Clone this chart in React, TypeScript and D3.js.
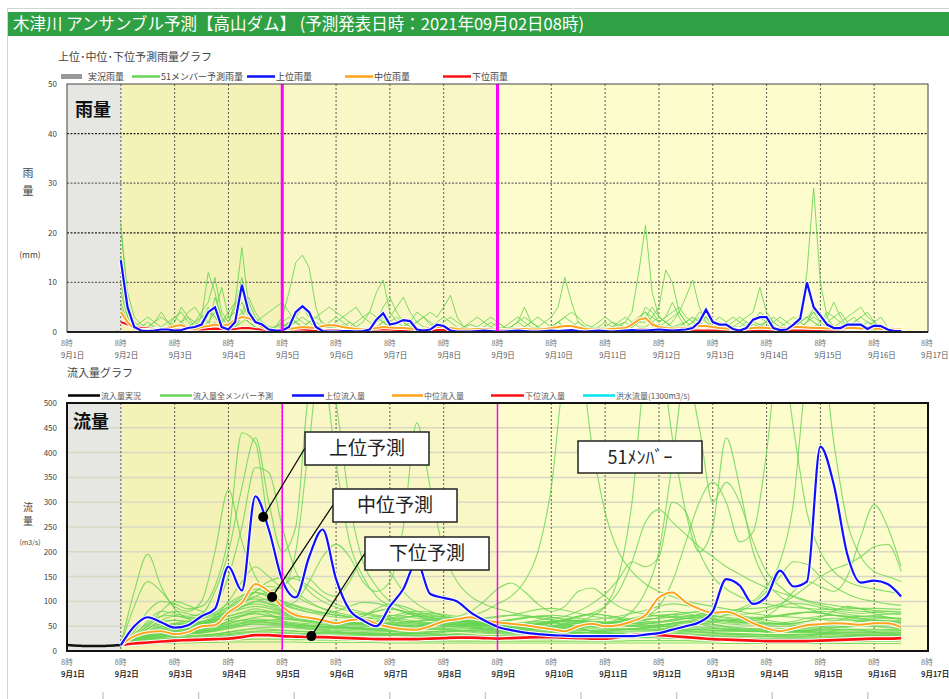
import React from "react";
import * as d3 from "d3";

const JP = "'Noto Sans CJK JP', 'Noto Sans', sans-serif";

const TITLE = "木津川 アンサンブル予測【高山ダム】 (予測発表日時：2021年09月02日08時)";
const RAIN_TITLE = "上位･中位･下位予測雨量グラフ";
const FLOW_TITLE = "流入量グラフ";
const dayLabels = ["9月1日", "9月2日", "9月3日", "9月4日", "9月5日", "9月6日", "9月7日", "9月8日", "9月9日",
  "9月10日", "9月11日", "9月12日", "9月13日", "9月14日", "9月15日", "9月16日", "9月17日"];
const hourLabel = "8時";
const rainTicks = [0, 10, 20, 30, 40, 50];
const flowTicks = [0, 50, 100, 150, 200, 250, 300, 350, 400, 450, 500];
const rainLegend = ["実況雨量", "51メンバー予測雨量", "上位雨量", "中位雨量", "下位雨量"];
const flowLegend = ["流入量実況", "流入量全メンバー予測", "上位流入量", "中位流入量", "下位流入量", "洪水流量(1300m3/s)"];

// hours counted from 9/1 8時
const forecastStart = 24;
const cutLines = [96, 192];

// rain, every 3 hours from 9/2 8時
const rainStep = 3;
const rainObserved = [0, 0, 0, 0, 0, 0, 0, 0, 0, 0, 0, 0, 0, 0, 0, 0, 0, 0, 0, 0, 0, 0.2, 0.3, 0.2];
const rainUpper = [
  14.5, 5, 1, 0.3, 0.2, 0.3, 0.5, 0.5, 0.3, 0.4,
  0.8, 1, 1.5, 4, 5, 1, 0.5, 2, 9.5, 4,
  2, 1.5, 0.5, 0.3, 0.3, 1, 4, 5.2, 4, 1,
  0.2, 0.1, 0.1, 0.2, 0.2, 0.1, 0.2, 0.5, 2.5, 3.8,
  1.5, 1.8, 2.4, 2.2, 0.5, 0.3, 0.5, 1.5, 1.2, 0.3,
  0.1, 0.1, 0.1, 0.2, 0.3, 0.2, 0.1, 0.1, 0.2, 0.3,
  0.2, 0.1, 0.1, 0.2, 0.3, 0.2, 0.3, 0.4, 0.2, 0.1,
  0.2, 0.3, 0.2, 0.1, 0.2, 0.3, 0.4, 0.3, 0.3, 0.4,
  0.5, 0.4, 0.3, 0.4, 0.5, 0.8, 2, 4.5, 2, 1.5,
  1.5, 0.6, 0.3, 0.8, 2.5, 3, 3, 0.8, 0.4, 0.5,
  1.5, 2.7, 10, 5, 3.3, 1.5, 0.8, 0.8, 1.5, 1.5,
  1.5, 0.6, 1.3, 1.2, 0.5, 0.2, 0.2];
const rainMiddle = [
  4, 2, 0.6, 0.4, 0.4, 0.5, 0.6, 0.8, 1.2, 1.4,
  0.8, 0.5, 1, 1.2, 1.5, 1.2, 1.5, 2.5, 3, 2.8,
  2, 1, 0.5, 0.4, 0.5, 0.6, 0.8, 1, 0.9, 0.8,
  1.2, 1.4, 1.3, 1, 0.8, 0.6, 0.5, 0.6, 0.8, 1,
  0.9, 0.8, 0.8, 0.7, 0.6, 0.6, 0.8, 1, 1, 0.8,
  0.6, 0.5, 0.5, 0.6, 0.6, 0.5, 0.4, 0.4, 0.5, 0.6,
  0.6, 0.5, 0.5, 0.6, 0.8, 1, 1.2, 1.2, 0.9, 0.6,
  0.5, 0.5, 0.5, 0.6, 0.7, 0.8, 1.5, 2.5, 2.8, 1.5,
  1, 0.8, 0.7, 0.7, 0.8, 1, 1.2, 1.2, 1, 0.8,
  0.7, 0.6, 0.6, 0.7, 0.8, 0.9, 0.8, 0.7, 0.7, 0.8,
  1, 1, 0.9, 0.8, 0.8, 0.7, 0.7, 0.7, 0.8, 0.8,
  0.7, 0.7, 0.7, 0.6, 0.6, 0.5, 0.5];
const rainLower = [
  2, 1.5, 1, 0.8, 0.7, 0.6, 0.5, 0.5, 0.5, 0.6,
  0.6, 0.5, 0.5, 0.6, 0.7, 0.6, 0.5, 0.6, 0.8, 0.8,
  0.6, 0.5, 0.4, 0.4, 0.4, 0.5, 0.5, 0.5, 0.4, 0.4,
  0.4, 0.4, 0.4, 0.4, 0.4, 0.4, 0.4, 0.4, 0.5, 0.5,
  0.5, 0.4, 0.4, 0.4, 0.4, 0.3, 0.3, 0.4, 0.4, 0.4,
  0.3, 0.3, 0.3, 0.3, 0.3, 0.3, 0.3, 0.3, 0.3, 0.3,
  0.3, 0.3, 0.3, 0.3, 0.3, 0.3, 0.4, 0.4, 0.4, 0.3,
  0.3, 0.3, 0.3, 0.3, 0.3, 0.3, 0.4, 0.5, 0.5, 0.4,
  0.4, 0.4, 0.3, 0.3, 0.3, 0.3, 0.3, 0.3, 0.3, 0.3,
  0.3, 0.3, 0.3, 0.3, 0.3, 0.3, 0.3, 0.3, 0.3, 0.3,
  0.3, 0.3, 0.3, 0.3, 0.3, 0.3, 0.4, 0.5, 0.6, 0.7,
  0.8, 1, 1, 0.9, 0.8, 0.6, 0.4];
const rainMembers = [
  [22, 6, 2, 1, 0.5, 0.5, 1, 2, 3, 2,
    1, 0.5, 2, 5, 3, 1, 2, 6, 17, 5,
    2, 1, 0.5, 1, 3, 8, 14, 15.5, 13, 5,
    1, 0.5, 0.5, 1, 2, 1, 0.5, 1, 3, 2,
    1, 0.5, 0.5, 1, 0.5, 0.3, 0.3, 0.5, 1, 0.5,
    0.3, 0.2, 0.3, 0.5, 1, 0.5, 0.3, 0.3, 0.5, 1,
    0.5, 0.3, 0.3, 0.5, 1, 2, 1, 0.5, 0.3, 0.3,
    0.5, 1, 0.5, 0.5, 1, 2, 4, 12, 21.5, 8,
    3, 2, 1, 1, 2, 3, 2, 1, 1, 2,
    1, 0.5, 0.5, 1, 2, 1.5, 1, 0.5, 0.5, 1,
    1.5, 2, 3, 2, 1, 0.5, 0.5, 1, 1.5, 1,
    0.5, 0.5, 1, 0.5, 0.3, 0.2, 0.2],
  [21, 8, 3, 1.5, 1, 0.5, 0.5, 1, 1.5, 1,
    0.5, 1, 3, 12, 8, 2, 1, 1.5, 3, 2,
    1, 0.5, 0.5, 0.5, 1, 1.5, 2, 1, 0.5, 0.5,
    0.5, 1, 0.5, 0.3, 0.5, 1, 2, 4, 8, 10.5,
    4, 2, 1, 0.5, 0.5, 1, 1, 0.5, 0.3, 0.3,
    0.3, 0.5, 0.5, 0.3, 0.2, 0.2, 0.3, 0.5, 1, 2,
    1, 0.5, 0.3, 0.3, 0.5, 0.5, 0.3, 0.2, 0.2, 0.3,
    0.5, 0.5, 0.3, 0.3, 0.5, 1, 1.5, 2, 2, 3,
    5, 12.5, 10, 4, 2, 1, 0.5, 0.5, 1, 0.5,
    0.3, 0.3, 0.5, 1, 1.5, 1, 0.5, 0.3, 0.3, 0.5,
    1, 3, 12, 29, 10, 3, 1, 0.5, 0.5, 1,
    1, 0.5, 0.3, 0.3, 0.3, 0.2, 0.2],
  [15, 4, 1, 0.5, 1, 2, 3, 2, 1, 0.5,
    1, 2, 4, 6, 11, 4, 2, 5, 11, 4,
    2, 1, 0.5, 0.5, 1, 2, 3, 2, 1, 0.5,
    0.5, 1, 2, 3, 2, 1, 0.5, 0.5, 1, 2,
    3, 5, 7, 4, 2, 1, 0.5, 0.5, 1, 0.5,
    0.3, 0.3, 0.5, 1, 0.5, 0.3, 0.3, 0.5, 1, 0.5,
    0.3, 0.5, 1, 2, 3, 5, 11, 6, 2, 1,
    0.5, 0.3, 0.3, 0.5, 0.5, 1, 1.5, 3, 4, 2,
    1, 1, 2, 4, 7, 10.5, 5, 2, 1, 0.5,
    0.5, 1, 1, 0.5, 0.5, 1, 2, 1, 0.5, 0.3,
    0.5, 1, 2, 4, 2, 1, 0.5, 1, 2, 3,
    1.5, 1, 0.5, 0.5, 0.3, 0.2, 0.2],
  [10, 3, 1, 2, 3, 2, 1, 0.5, 1, 2,
    3, 2, 1, 2, 4, 9, 3, 1, 2, 3,
    2, 1, 0.5, 0.5, 0.5, 1, 2, 3, 2, 1,
    0.5, 0.5, 1, 1.5, 1, 0.5, 0.5, 1, 2, 3,
    2, 1, 0.5, 1, 2, 3, 4, 3, 5, 7.4,
    3, 1, 0.5, 0.5, 1, 2, 1, 0.5, 1, 2,
    5, 2, 1, 0.5, 0.5, 1, 1, 0.5, 0.5, 1,
    0.5, 0.3, 0.5, 1, 2, 3, 2, 1, 1, 2,
    3, 2, 1, 0.5, 1, 2, 3, 2, 1, 0.5,
    0.5, 1, 2, 3, 4, 9, 4, 2, 1, 0.5,
    0.5, 1, 2, 3, 2, 3, 6, 3, 1, 0.5,
    1, 2, 1.5, 1, 0.5, 0.3, 0.2],
  [6, 2, 1, 0.5, 1, 2, 4, 2, 1, 2,
    4, 5, 3, 2, 1, 2, 3, 4, 6, 3,
    2, 3, 4, 5, 6, 4, 2, 1, 2, 3,
    4, 5, 4, 3, 4, 5, 3, 2, 1, 1,
    2, 3, 2, 1, 0.5, 0.5, 1, 2, 3, 2,
    1, 0.5, 0.5, 1, 2, 3, 2, 1, 0.5, 0.5,
    1, 2, 3, 2, 1, 0.5, 0.5, 1, 2, 1,
    0.5, 0.5, 1, 2, 1.5, 1, 2, 3, 4, 3,
    2, 3, 4, 5, 3, 2, 1.5, 1, 2, 3,
    2, 1, 0.5, 1, 2, 3, 2, 1, 0.5, 0.5,
    1, 2, 3, 4, 3, 2, 1, 0.5, 1, 2,
    3, 2, 1, 0.5, 0.5, 0.3, 0.2],
  [5, 1.5, 0.5, 0.5, 1, 1, 0.5, 1, 2, 5,
    3, 1, 0.5, 1, 7, 3, 1, 2, 4, 7,
    4, 2, 1, 0.5, 1, 2, 3, 5, 3, 2,
    1, 0.5, 0.5, 1, 0.5, 0.3, 0.5, 1, 2, 5,
    7, 4, 2, 1, 2, 3, 2, 1, 0.5, 0.5,
    0.5, 1, 1.5, 1, 0.5, 0.3, 0.5, 1, 2, 3,
    2, 1, 0.5, 0.5, 1, 2, 1, 0.5, 0.3, 0.5,
    1, 2, 3, 2, 1, 0.5, 1, 2, 5, 4,
    2, 3, 6, 3, 1, 2, 4, 3, 1, 0.5,
    1, 2, 3, 2, 1, 1.5, 2, 3, 2, 1,
    0.5, 1, 2, 5, 3, 2, 3, 4, 2, 1,
    0.5, 1, 2, 3, 1, 0.5, 0.2],
  [8, 3, 1, 0.5, 0.5, 0.3, 0.5, 1, 3, 4,
    2, 1, 0.5, 1, 2, 1, 0.5, 1, 3, 6,
    3, 1.5, 1, 1, 2, 3, 2, 1, 0.5, 0.5,
    1, 2, 3, 2, 1, 0.5, 0.5, 0.5, 1, 2,
    1, 0.5, 1, 2, 4, 3, 1.5, 1, 0.5, 0.5,
    0.5, 1, 2, 3, 2, 1, 0.5, 0.5, 1, 2,
    3, 2, 1, 0.5, 1, 2, 3, 2, 1, 0.5,
    0.5, 1, 2, 1, 0.5, 0.5, 1, 2, 3, 5,
    3, 2, 1, 1.5, 2, 3, 2, 1, 0.5, 1,
    2, 3, 2, 1, 2, 4, 3, 2, 1, 2,
    3, 2, 1, 1, 2, 4, 3, 2, 1, 2,
    3, 4, 2, 1, 0.5, 0.3, 0.2],
  [4, 2, 1, 1, 2, 1, 0.5, 0.5, 1, 1.5,
    1, 2, 3, 4, 3, 2, 4, 6, 4, 2,
    1, 0.5, 0.5, 1, 1.5, 1, 0.5, 1, 2, 3,
    2, 1, 0.5, 0.5, 1, 2, 3, 4, 3, 2,
    1, 0.5, 1, 2, 1, 0.5, 0.5, 1, 2, 3,
    2, 1, 0.5, 0.3, 0.5, 1, 2, 1, 0.5, 0.5,
    1, 2, 1, 0.5, 1, 2, 3, 4, 3, 1.5,
    1, 0.5, 0.5, 1, 1.5, 2, 1, 2, 3, 2,
    1, 2, 3, 4, 2, 1, 2, 3, 2, 1,
    0.5, 0.5, 1, 2, 1, 0.5, 1, 2, 3, 2,
    1, 2, 3, 2, 1, 0.5, 1, 2, 3, 4,
    5, 3, 2, 1, 0.5, 0.3, 0.2],
];

// inflow, every 6 hours from 9/2 8時 (observed every 3 hours from 9/1 8時)
const flowStep = 6;
const flowObserved = [12, 11, 10.5, 10, 10, 10, 10.5, 11, 12];
const flowUpper = [
  12, 50, 68, 58, 47, 52, 70, 85, 170, 122,
  312, 245, 143, 108, 190, 245, 145, 83, 62, 50,
  90, 125, 180, 115, 107, 100, 78, 62, 49, 42,
  37, 34, 32, 31, 30, 30, 30, 30, 30, 33,
  36, 43, 50, 58, 80, 145, 132, 95, 110, 162,
  130, 140, 412, 335, 195, 138, 142, 135, 110];
const flowMiddle = [
  12, 30, 38, 40, 34, 38, 50, 52, 78, 97,
  135, 120, 89, 72, 67, 62, 56, 62, 64, 55,
  48, 44, 43, 50, 60, 64, 68, 62, 58, 55,
  52, 48, 44, 40, 50, 55, 50, 52, 60, 72,
  108, 118, 98, 85, 77, 79, 70, 56, 46, 40,
  46, 52, 54, 56, 55, 53, 56, 56, 48];
const flowLower = [
  12, 15, 17, 19, 21, 22, 23, 24, 25, 28,
  32, 32, 30, 29, 28, 28, 27, 26, 25, 24,
  24, 24, 24, 25, 26, 27, 27, 26, 25, 26,
  27, 28, 28, 27, 26, 25, 25, 28, 32, 33,
  32, 30, 28, 26, 24, 23, 22, 21, 20, 20,
  20, 20, 21, 22, 23, 24, 25, 25, 26];
const flowMembers = [
  [12, 120, 195, 130, 85, 65, 55, 50, 60, 70,
    80, 75, 60, 50, 45, 40, 38, 36, 34, 33,
    32, 31, 30, 30, 32, 35, 33, 30, 28, 27,
    26, 26, 25, 25, 26, 28, 30, 32, 30, 28,
    27, 26, 25, 25, 24, 24, 23, 23, 22, 22,
    22, 23, 24, 25, 26, 27, 26, 25, 25],
  [12, 90, 140, 120, 90, 80, 100, 200, 325, 220,
    150, 110, 90, 75, 65, 58, 52, 48, 45, 42,
    40, 38, 36, 35, 34, 33, 32, 31, 30, 30,
    30, 35, 45, 55, 48, 40, 36, 33, 31, 30,
    29, 28, 28, 27, 27, 26, 26, 25, 25, 25,
    25, 25, 26, 28, 30, 32, 30, 28, 27],
  [12, 40, 80, 100, 95, 85, 90, 130, 230, 440,
    420, 250, 160, 120, 100, 85, 75, 68, 62, 58,
    54, 50, 48, 46, 44, 42, 40, 38, 37, 36,
    40, 55, 60, 50, 45, 40, 38, 36, 35, 34,
    34, 33, 32, 32, 31, 30, 30, 29, 29, 28,
    28, 30, 34, 40, 44, 42, 38, 35, 33],
  [12, 30, 60, 80, 75, 70, 75, 120, 200, 330,
    430, 300, 200, 250, 520, 560, 380, 220, 150, 110,
    90, 78, 70, 64, 60, 56, 52, 50, 48, 46,
    44, 42, 40, 38, 37, 36, 35, 34, 33, 33,
    32, 32, 31, 31, 30, 30, 30, 29, 29, 29,
    28, 28, 28, 28, 28, 28, 28, 28, 28],
  [12, 35, 55, 70, 72, 65, 68, 90, 150, 250,
    370, 360, 250, 160, 120, 100, 88, 80, 75, 70,
    65, 60, 56, 53, 50, 48, 46, 44, 42, 41,
    40, 39, 38, 38, 37, 37, 36, 36, 36, 36,
    35, 35, 35, 34, 34, 34, 34, 33, 33, 33,
    33, 33, 33, 33, 32, 32, 32, 32, 32],
  [12, 25, 40, 50, 55, 52, 55, 70, 100, 140,
    170, 150, 130, 200, 420, 620, 500, 300, 180, 130,
    100, 85, 75, 68, 62, 58, 55, 52, 50, 48,
    46, 45, 44, 43, 42, 41, 40, 40, 40, 40,
    42, 50, 60, 55, 48, 44, 42, 40, 38, 38,
    37, 37, 36, 36, 36, 36, 35, 35, 35],
  [12, 28, 45, 55, 50, 48, 52, 60, 75, 90,
    100, 95, 90, 100, 140, 190, 215, 190, 140, 120,
    140, 250, 460, 330, 200, 140, 110, 95, 85, 78,
    72, 68, 64, 60, 58, 56, 54, 52, 50, 48,
    46, 45, 44, 43, 42, 41, 40, 40, 40, 39,
    39, 39, 38, 38, 38, 38, 38, 38, 38],
  [12, 20, 30, 38, 40, 40, 42, 50, 60, 70,
    75, 70, 65, 62, 60, 58, 56, 60, 70, 85,
    95, 90, 80, 72, 68, 66, 70, 80, 95, 110,
    140, 200, 330, 560, 600, 420, 280, 200, 160, 135,
    120, 110, 100, 95, 90, 85, 80, 75, 72, 70,
    68, 66, 64, 62, 62, 62, 62, 62, 62],
  [12, 22, 32, 40, 44, 45, 48, 55, 65, 72,
    75, 72, 68, 64, 60, 58, 56, 55, 54, 53,
    52, 52, 52, 54, 58, 62, 60, 56, 52, 50,
    48, 48, 50, 55, 60, 70, 90, 150, 300, 560,
    600, 430, 280, 200, 250, 430, 330, 200, 140, 110,
    95, 85, 78, 72, 68, 64, 62, 60, 58],
  [12, 18, 26, 32, 36, 38, 40, 44, 50, 55,
    58, 56, 54, 52, 50, 48, 47, 46, 45, 44,
    44, 44, 45, 46, 48, 50, 52, 50, 48, 46,
    45, 44, 44, 44, 46, 50, 56, 64, 80, 120,
    200, 380, 560, 450, 300, 340, 300, 220, 160, 130,
    110, 100, 92, 86, 82, 80, 78, 76, 75],
  [12, 20, 30, 36, 38, 38, 40, 46, 55, 62,
    65, 62, 58, 55, 52, 50, 48, 47, 46, 46,
    46, 46, 48, 50, 52, 54, 55, 54, 52, 50,
    50, 52, 56, 60, 62, 60, 58, 56, 60, 70,
    90, 140, 220, 300, 340, 300, 220, 240, 400, 620,
    450, 280, 200, 160, 140, 130, 125, 120, 115],
  [12, 15, 22, 28, 32, 35, 36, 40, 45, 50,
    55, 54, 52, 50, 48, 46, 45, 44, 43, 42,
    42, 42, 43, 44, 45, 46, 46, 45, 44, 43,
    43, 44, 46, 48, 50, 52, 54, 55, 56, 58,
    60, 62, 65, 68, 72, 78, 85, 100, 130, 180,
    300, 560, 620, 420, 260, 190, 160, 150, 140],
  [12, 16, 24, 30, 34, 36, 38, 42, 48, 52,
    54, 52, 50, 48, 46, 44, 42, 41, 40, 40,
    40, 42, 46, 52, 56, 54, 50, 46, 44, 42,
    42, 44, 48, 52, 56, 58, 56, 52, 50, 50,
    52, 56, 60, 62, 60, 58, 56, 60, 70, 90,
    120, 140, 130, 120, 150, 230, 295, 250, 170],
  [12, 18, 28, 34, 36, 36, 38, 44, 50, 56,
    60, 58, 56, 54, 52, 50, 48, 47, 46, 46,
    46, 48, 52, 56, 60, 62, 60, 56, 54, 52,
    52, 54, 58, 62, 68, 76, 90, 120, 180, 260,
    285, 260, 235, 210, 190, 170, 155, 140, 128, 118,
    110, 102, 96, 92, 88, 85, 82, 80, 78],
  [12, 20, 30, 38, 42, 42, 44, 50, 58, 62,
    62, 58, 54, 52, 50, 48, 47, 46, 48, 52,
    58, 66, 72, 76, 74, 70, 80, 100, 125, 137,
    120, 95, 80, 90, 120, 127, 110, 90, 80, 74,
    70, 68, 66, 66, 68, 72, 80, 95, 120, 150,
    180, 175, 150, 130, 115, 105, 100, 95, 92],
  [12, 22, 35, 45, 50, 52, 55, 62, 70, 78,
    85, 80, 74, 68, 64, 60, 58, 56, 55, 54,
    54, 56, 60, 64, 66, 64, 60, 58, 56, 56,
    58, 62, 66, 70, 80, 95, 115, 145, 180, 170,
    190, 300, 280, 200, 150, 125, 110, 100, 95, 90,
    88, 86, 84, 84, 85, 86, 86, 85, 84],
  [12, 25, 45, 60, 62, 58, 56, 58, 65, 72,
    78, 80, 76, 70, 65, 62, 60, 58, 56, 55,
    54, 53, 52, 52, 52, 52, 53, 54, 55, 56,
    56, 56, 55, 55, 55, 56, 58, 60, 62, 64,
    66, 68, 70, 72, 76, 80, 84, 86, 88, 95,
    110, 130, 150, 165, 175, 190, 210, 215, 160],
  [12, 18, 24, 28, 30, 31, 32, 34, 38, 42,
    45, 44, 42, 40, 38, 37, 36, 35, 34, 33,
    32, 32, 31, 31, 31, 31, 30, 30, 30, 29,
    29, 29, 28, 28, 28, 28, 28, 27, 27, 27,
    27, 27, 26, 26, 26, 26, 26, 25, 25, 25,
    25, 25, 25, 25, 25, 25, 25, 25, 25],
  [12, 25, 38, 50, 55, 55, 58, 65, 80, 95,
    110, 100, 85, 75, 68, 62, 58, 55, 52, 50,
    48, 46, 45, 44, 43, 42, 42, 44, 48, 52,
    56, 60, 58, 54, 50, 48, 46, 44, 43, 42,
    42, 41, 41, 40, 40, 40, 40, 39, 39, 39,
    39, 39, 38, 38, 38, 38, 38, 38, 38],
  [12, 30, 50, 70, 80, 75, 70, 75, 90, 110,
    125, 115, 100, 90, 82, 76, 72, 70, 74, 80,
    85, 80, 72, 66, 62, 58, 56, 54, 52, 50,
    48, 47, 46, 46, 48, 52, 56, 58, 56, 52,
    50, 48, 47, 46, 46, 46, 45, 45, 45, 45,
    45, 45, 46, 48, 50, 52, 52, 52, 52],
  [12, 16, 20, 24, 26, 27, 28, 30, 33, 36,
    38, 38, 37, 36, 35, 35, 34, 34, 34, 34,
    34, 35, 36, 38, 40, 40, 38, 36, 35, 34,
    34, 34, 34, 35, 36, 38, 40, 42, 44, 46,
    48, 50, 50, 48, 46, 44, 42, 40, 40, 40,
    41, 42, 44, 46, 48, 50, 50, 48, 46],
  [12, 22, 32, 42, 48, 50, 55, 65, 85, 100,
    105, 95, 82, 72, 65, 60, 58, 62, 70, 80,
    85, 80, 70, 62, 58, 55, 54, 55, 58, 62,
    66, 70, 68, 64, 60, 56, 54, 52, 52, 54,
    58, 64, 70, 72, 70, 66, 62, 58, 56, 55,
    56, 60, 68, 80, 90, 85, 75, 68, 64],
  [12, 20, 28, 34, 40, 44, 50, 60, 75, 95,
    120, 140, 148, 145, 130, 110, 95, 85, 78, 72,
    68, 64, 60, 57, 55, 53, 51, 50, 49, 48,
    47, 46, 46, 45, 45, 45, 44, 44, 44, 44,
    43, 43, 43, 43, 42, 42, 42, 42, 42, 42,
    42, 42, 42, 42, 42, 42, 42, 42, 42],
  [12, 22, 34, 44, 48, 50, 54, 62, 78, 95,
    110, 120, 130, 150, 145, 120, 110, 140, 190, 200,
    160, 120, 95, 80, 70, 64, 60, 58, 56, 55,
    54, 53, 52, 52, 52, 52, 52, 52, 52, 52,
    52, 54, 56, 58, 60, 62, 60, 58, 56, 54,
    52, 50, 48, 48, 50, 54, 58, 60, 60],
  [12, 14, 16, 18, 19, 20, 20, 21, 22, 23,
    24, 24, 24, 23, 23, 22, 22, 22, 21, 21,
    21, 21, 20, 20, 20, 20, 20, 20, 20, 20,
    20, 20, 20, 20, 20, 20, 20, 20, 21, 21,
    21, 21, 21, 20, 20, 20, 20, 20, 19, 19,
    19, 19, 19, 19, 19, 19, 20, 20, 20],
  [12, 13, 14, 15, 16, 16, 17, 17, 18, 18,
    18, 18, 18, 18, 17, 17, 17, 17, 17, 17,
    16, 16, 16, 16, 16, 16, 16, 16, 16, 16,
    16, 16, 16, 16, 16, 16, 16, 16, 16, 16,
    16, 16, 16, 16, 16, 15, 15, 15, 15, 15,
    15, 15, 15, 15, 15, 15, 15, 15, 15],
  [12, 15, 18, 21, 23, 25, 26, 28, 30, 32,
    33, 33, 32, 31, 30, 29, 28, 28, 27, 27,
    26, 26, 26, 27, 28, 28, 27, 26, 25, 25,
    24, 24, 24, 24, 24, 25, 26, 27, 28, 28,
    27, 26, 25, 24, 24, 23, 23, 22, 22, 22,
    22, 22, 22, 22, 23, 24, 24, 24, 24],
  [12, 16, 20, 24, 27, 29, 31, 34, 38, 42,
    46, 48, 48, 46, 44, 42, 40, 38, 37, 36,
    35, 35, 35, 36, 38, 40, 42, 42, 40, 38,
    36, 35, 34, 33, 32, 32, 32, 32, 32, 33,
    34, 36, 38, 38, 37, 36, 35, 34, 33, 32,
    31, 30, 30, 30, 30, 31, 32, 32, 32],
  [12, 20, 30, 40, 48, 52, 58, 68, 80, 90,
    95, 90, 80, 72, 66, 62, 60, 62, 66, 70,
    72, 70, 66, 62, 60, 58, 56, 54, 52, 50,
    50, 52, 56, 62, 70, 75, 72, 66, 60, 56,
    54, 52, 52, 54, 58, 62, 64, 62, 58, 55,
    52, 50, 50, 52, 56, 60, 62, 60, 56],
  [12, 18, 26, 34, 40, 45, 52, 62, 75, 88,
    100, 105, 100, 92, 84, 78, 72, 68, 64, 60,
    58, 56, 55, 56, 58, 60, 62, 66, 70, 72,
    70, 66, 62, 58, 56, 55, 56, 60, 66, 72,
    78, 80, 76, 70, 64, 60, 58, 56, 55, 56,
    60, 66, 70, 72, 70, 66, 62, 60, 58],
  [12, 24, 40, 55, 62, 60, 58, 62, 70, 76,
    80, 78, 72, 66, 62, 58, 55, 54, 56, 60,
    66, 72, 76, 74, 68, 62, 58, 55, 53, 52,
    52, 54, 58, 64, 70, 74, 72, 68, 64, 60,
    58, 60, 66, 74, 80, 78, 72, 66, 62, 58,
    55, 54, 56, 60, 66, 70, 70, 68, 64],
  [12, 17, 22, 27, 31, 34, 37, 41, 46, 52,
    58, 62, 64, 62, 58, 54, 50, 47, 45, 44,
    44, 45, 48, 52, 54, 52, 48, 45, 43, 42,
    42, 43, 45, 48, 50, 50, 48, 46, 45, 46,
    50, 56, 60, 58, 54, 50, 47, 45, 44, 44,
    45, 47, 50, 54, 56, 54, 50, 47, 45],
  [12, 26, 45, 62, 70, 68, 66, 72, 88, 105,
    118, 112, 98, 86, 78, 72, 68, 66, 65, 66,
    70, 76, 80, 78, 72, 66, 62, 60, 60, 62,
    66, 70, 72, 70, 66, 64, 66, 70, 76, 82,
    90, 95, 92, 86, 80, 76, 74, 76, 82, 90,
    96, 94, 88, 82, 78, 76, 78, 80, 78],
  [12, 19, 27, 34, 38, 40, 43, 48, 55, 62,
    68, 70, 68, 64, 60, 57, 55, 54, 54, 55,
    56, 58, 60, 62, 62, 60, 57, 55, 54, 54,
    55, 57, 60, 62, 62, 60, 58, 57, 58, 62,
    68, 74, 78, 76, 72, 68, 66, 66, 68, 72,
    76, 78, 76, 72, 68, 66, 66, 66, 65],
  [12, 21, 33, 44, 52, 56, 60, 68, 82, 100,
    120, 130, 125, 110, 96, 86, 78, 72, 68, 65,
    62, 60, 58, 56, 55, 54, 53, 52, 52, 52,
    53, 55, 58, 60, 60, 58, 56, 55, 55, 56,
    58, 62, 66, 68, 66, 62, 58, 55, 54, 54,
    56, 60, 64, 66, 64, 60, 57, 55, 54],
  [12, 14, 17, 20, 22, 24, 25, 27, 30, 33,
    35, 36, 35, 34, 33, 32, 31, 31, 31, 31,
    32, 33, 34, 34, 33, 32, 31, 30, 30, 30,
    31, 32, 33, 34, 34, 33, 32, 32, 33, 35,
    38, 40, 40, 38, 36, 34, 33, 32, 32, 32,
    33, 34, 35, 35, 34, 33, 32, 32, 32],
  [12, 23, 36, 48, 56, 60, 66, 78, 96, 112,
    118, 108, 94, 84, 78, 76, 80, 90, 98, 96,
    88, 80, 74, 70, 68, 67, 66, 66, 68, 72,
    78, 84, 86, 82, 76, 70, 66, 64, 63, 64,
    66, 70, 76, 80, 78, 74, 70, 68, 68, 70,
    74, 78, 80, 78, 74, 70, 68, 67, 66],
  [12, 17, 24, 30, 34, 37, 40, 45, 52, 58,
    62, 62, 60, 57, 55, 53, 52, 51, 50, 50,
    50, 51, 52, 52, 51, 50, 49, 48, 48, 48,
    48, 48, 49, 50, 51, 52, 54, 58, 64, 70,
    72, 70, 66, 62, 58, 55, 53, 52, 51, 50,
    50, 50, 51, 53, 55, 56, 55, 54, 53],
  [12, 15, 19, 23, 26, 28, 30, 32, 35, 38,
    40, 41, 41, 40, 39, 38, 37, 36, 36, 36,
    36, 37, 38, 39, 40, 41, 41, 40, 39, 38,
    38, 38, 38, 39, 40, 41, 42, 43, 45, 48,
    52, 56, 58, 56, 52, 48, 45, 43, 42, 41,
    41, 41, 42, 43, 44, 44, 44, 43, 42],
  [12, 28, 52, 80, 100, 92, 80, 74, 78, 85,
    90, 86, 78, 70, 64, 60, 58, 57, 58, 60,
    64, 68, 70, 68, 64, 60, 58, 58, 60, 64,
    68, 70, 68, 64, 60, 58, 58, 60, 64, 68,
    72, 74, 72, 68, 64, 62, 62, 64, 68, 72,
    76, 78, 76, 72, 70, 70, 72, 74, 74],
];

// callouts: label and the (hour, value) the pointer dot sits on
const callouts = [
  { label: "上位予測", hour: 87.5, value: 270, box: [305, 432] },
  { label: "中位予測", hour: 91.5, value: 109, box: [333, 489] },
  { label: "下位予測", hour: 109, value: 30, box: [365, 537] },
];
const memberNote = "51ﾒﾝﾊﾞｰ";

const W = 949, H = 699;
const left = 67, right = 928;
const x = d3.scaleLinear().domain([0, 384]).range([left, right]);
const yRain = d3.scaleLinear().domain([0, 50]).range([332, 84]);
const yFlow = d3.scaleLinear().domain([0, 500]).range([651, 403]);

const C = {
  green: "#66d452",
  blue: "#1010ff",
  orange: "#ffa31a",
  red: "#ff1010",
  magenta: "#ff00ff",
  grey: "#e6e6e2",
  yel1: "#f4f2b6",
  yel2: "#f9f7c5",
  yel3: "#fcfccc",
};

function seriesPath(vals: number[], start: number, step: number, y: any, curve: any) {
  return d3.line<number>()
    .x((d, i) => x(start + i * step))
    .y(d => y(d))
    .curve(curve)(vals) || "";
}

function Background({ y0, y1 }: { y0: number; y1: number }) {
  const bands = [
    [0, forecastStart, C.grey],
    [forecastStart, cutLines[0], C.yel1],
    [cutLines[0], cutLines[1], C.yel2],
    [cutLines[1], 384, C.yel3],
  ] as [number, number, string][];
  return <g>
    {bands.map(([a, b, c], i) => (
      <rect key={i} x={x(a)} y={y0} width={x(b) - x(a)} height={y1 - y0} fill={c} />
    ))}
  </g>;
}

function XLabels({ y1, bold }: { y1: number; bold: boolean }) {
  return <g fontFamily={JP} fontSize={7.5}>
    {dayLabels.map((d, i) => (
      <g key={d} transform={`translate(${Math.min(x(i * 24) - 6, W - 28)},0)`}>
        <text y={y1 + 14} fill="#777">{hourLabel}</text>
        <text y={y1 + 26} fill={bold ? "#333" : "#555"} fontWeight={bold ? 700 : 400}>{d}</text>
      </g>
    ))}
  </g>;
}

function RainChart() {
  const y0 = yRain(50), y1 = yRain(0);
  const keyLines = [
    { vals: rainLower, color: C.red, w: 2.2 },
    { vals: rainMiddle, color: C.orange, w: 2 },
    { vals: rainUpper, color: C.blue, w: 2.2 },
  ];
  const legendX = [[61, 88], [132, 161], [247, 276], [345, 374], [443, 472]];
  const legendColor = ["#999", C.green, C.blue, C.orange, C.red];
  return <g>
    <text x={58} y={61} fontFamily={JP} fontSize={11} fill="#444">{RAIN_TITLE}</text>
    {rainLegend.map((l, i) => (
      <g key={l} fontFamily={JP} fontSize={9} fill="#444">
        {i === 0
          ? <rect x={legendX[i][0]} y={74} width={21} height={5} fill={legendColor[i]} />
          : <line x1={legendX[i][0]} x2={legendX[i][1] - 1} y1={76.5} y2={76.5} stroke={legendColor[i]} strokeWidth={2.5} />}
        <text x={legendX[i][1]} y={80}>{l}</text>
      </g>
    ))}
    <Background y0={y0} y1={y1} />
    {rainTicks.slice(1, -1).map(t => (
      <line key={t} x1={left} x2={right} y1={yRain(t)} y2={yRain(t)} stroke={t % 20 === 0 ? "#222" : "#666"} strokeWidth={1.3} strokeDasharray="2,1.5" />
    ))}
    {dayLabels.slice(1, -1).map((d, i) => (
      <line key={d} x1={x((i + 1) * 24)} x2={x((i + 1) * 24)} y1={y0} y2={y1} stroke="#333" strokeWidth={0.8} strokeDasharray="2,2" />
    ))}
    <g clipPath="url(#clipRain)">
      {rainObserved.map((v, i) => v > 0 && (
        <rect key={i} x={x(i) + 0.3} y={yRain(v)} width={x(1) - x(0) - 0.6} height={y1 - yRain(v)} fill="#999" />
      ))}
      {rainMembers.map((m, i) => (
        <path key={i} d={seriesPath(m, forecastStart, rainStep, yRain, d3.curveLinear)} fill="none" stroke={C.green} strokeWidth={1} opacity={0.85} />
      ))}
      {keyLines.map((k, i) => (
        <g key={i}>
          <path d={seriesPath(k.vals, forecastStart, rainStep, yRain, d3.curveLinear)} fill="none" stroke="#fff" strokeWidth={k.w + 2} />
          <path d={seriesPath(k.vals, forecastStart, rainStep, yRain, d3.curveLinear)} fill="none" stroke={k.color} strokeWidth={k.w} />
        </g>
      ))}
    </g>
    {cutLines.map(c => (
      <line key={c} x1={x(c)} x2={x(c)} y1={y0} y2={y1} stroke={C.magenta} strokeWidth={3} />
    ))}
    <rect x={left} y={y0} width={right - left} height={y1 - y0} fill="none" stroke="#444" strokeWidth={1} />
    <line x1={left} x2={right} y1={y1} y2={y1} stroke="#222" strokeWidth={2} />
    <text x={75} y={116} fontFamily={JP} fontSize={18} fontWeight={700} fill="#111">雨量</text>
    <g fontFamily={JP} fontSize={8} fill="#444" textAnchor="end">
      {rainTicks.map(t => <text key={t} x={57} y={yRain(t) + 3}>{t}</text>)}
    </g>
    <g fontFamily={JP} fill="#444" textAnchor="middle">
      <text x={28} y={177} fontSize={11}>雨</text>
      <text x={28} y={195} fontSize={11}>量</text>
      <text x={30} y={258} fontSize={8.5}>(mm)</text>
    </g>
    <XLabels y1={y1} bold={false} />
  </g>;
}

function FlowChart() {
  const y0 = yFlow(500), y1 = yFlow(0);
  const keyLines = [
    { vals: flowLower, color: C.red, w: 2.6 },
    { vals: flowMiddle, color: C.orange, w: 2 },
    { vals: flowUpper, color: C.blue, w: 2.2 },
  ];
  const legendX = [[68, 101], [160, 193], [292, 325], [392, 424], [491, 525], [583, 616]];
  const legendColor = ["#000", C.green, C.blue, C.orange, C.red, "#00e5ee"];
  return <g>
    <text x={67} y={377} fontFamily={JP} fontSize={11} fill="#444">{FLOW_TITLE}</text>
    {flowLegend.map((l, i) => (
      <g key={l} fontFamily={JP} fontSize={8} fill="#555">
        <line x1={legendX[i][0]} x2={legendX[i][1] - 1} y1={395.5} y2={395.5} stroke={legendColor[i]} strokeWidth={2.5} />
        <text x={legendX[i][1]} y={399}>{l}</text>
      </g>
    ))}
    <Background y0={y0} y1={y1} />
    {flowTicks.slice(1, -1).map(t => (
      <line key={t} x1={left} x2={right} y1={yFlow(t)} y2={yFlow(t)} stroke="#d9d8c4" strokeWidth={1.5} />
    ))}
    {dayLabels.slice(1, -1).map((d, i) => (
      <line key={d} x1={x((i + 1) * 24)} x2={x((i + 1) * 24)} y1={y0} y2={y1} stroke="#333" strokeWidth={0.8} strokeDasharray="2,2" />
    ))}
    <g clipPath="url(#clipFlow)">
      <path d={seriesPath(flowObserved, 0, 3, yFlow, d3.curveMonotoneX)} fill="none" stroke="#111" strokeWidth={2.5} />
      {flowMembers.map((m, i) => (
        <path key={i} d={seriesPath(m, forecastStart, flowStep, yFlow, d3.curveMonotoneX)} fill="none" stroke={C.green} strokeWidth={1.1} opacity={0.8} />
      ))}
      {keyLines.map((k, i) => (
        <g key={i}>
          <path d={seriesPath(k.vals, forecastStart, flowStep, yFlow, d3.curveMonotoneX)} fill="none" stroke="#fff" strokeWidth={k.w + 2} />
          <path d={seriesPath(k.vals, forecastStart, flowStep, yFlow, d3.curveMonotoneX)} fill="none" stroke={k.color} strokeWidth={k.w} />
        </g>
      ))}
    </g>
    {cutLines.map(c => (
      <line key={c} x1={x(c)} x2={x(c)} y1={y0} y2={y1} stroke={C.magenta} strokeWidth={1.5} />
    ))}
    <rect x={left} y={y0} width={right - left} height={y1 - y0} fill="none" stroke="#111" strokeWidth={2} />
    <text x={73} y={428} fontFamily={JP} fontSize={18} fontWeight={700} fill="#111">流量</text>
    <g fontFamily={JP} fontSize={8} fill="#444" textAnchor="end">
      {flowTicks.map(t => <text key={t} x={57} y={yFlow(t) + 3}>{t}</text>)}
    </g>
    <g fontFamily={JP} fill="#444" textAnchor="middle">
      <text x={28} y={511} fontSize={10}>流</text>
      <text x={28} y={525} fontSize={10}>量</text>
      <text x={30} y={545} fontSize={7}>(m3/s)</text>
    </g>
    <XLabels y1={y1} bold={true} />
    {callouts.map(c => {
      const [bx, by] = c.box;
      return <g key={c.label}>
        <line x1={x(c.hour)} y1={yFlow(c.value)} x2={bx} y2={by + 16} stroke="#000" strokeWidth={1.2} />
        <circle cx={x(c.hour)} cy={yFlow(c.value)} r={5} fill="#000" />
        <rect x={bx} y={by} width={124} height={33} fill="#fff" stroke="#222" strokeWidth={1.5} />
        <text x={bx + 62} y={by + 23} textAnchor="middle" fontFamily={JP} fontSize={19} fill="#222">{c.label}</text>
      </g>;
    })}
    <rect x={578} y={441} width={124} height={32} fill="#fff" stroke="#222" strokeWidth={1.5} />
    <text x={640} y={464} textAnchor="middle" fontFamily={JP} fontSize={18} fill="#222">{memberNote}</text>
  </g>;
}

export default function App() {
  const footTicks = d3.range(9).map(i => 103 + i * 95.6);
  return (
    <svg width={W} height={H} style={{ position: "absolute", left: 0, top: 0, background: "#fff" }}>
      <defs>
        <clipPath id="clipRain"><rect x={left} y={yRain(50)} width={right - left} height={yRain(0) - yRain(50)} /></clipPath>
        <clipPath id="clipFlow"><rect x={left} y={yFlow(500)} width={right - left} height={yFlow(0) - yFlow(500)} /></clipPath>
      </defs>
      <rect x={7.5} y={8.5} width={W} height={H} fill="none" stroke="#d4d4d4" strokeWidth={1} />
      <rect x={8} y={12} width={W - 8} height={24} fill="#2fa043" />
      <text x={13} y={30} fontFamily={JP} fontSize={16.5} fill="#fff">{TITLE}</text>
      <RainChart />
      <FlowChart />
      {footTicks.map((t, i) => (
        <line key={i} x1={t} x2={t} y1={692} y2={699} stroke="#ccc" strokeWidth={1.5} />
      ))}
    </svg>
  );
}
